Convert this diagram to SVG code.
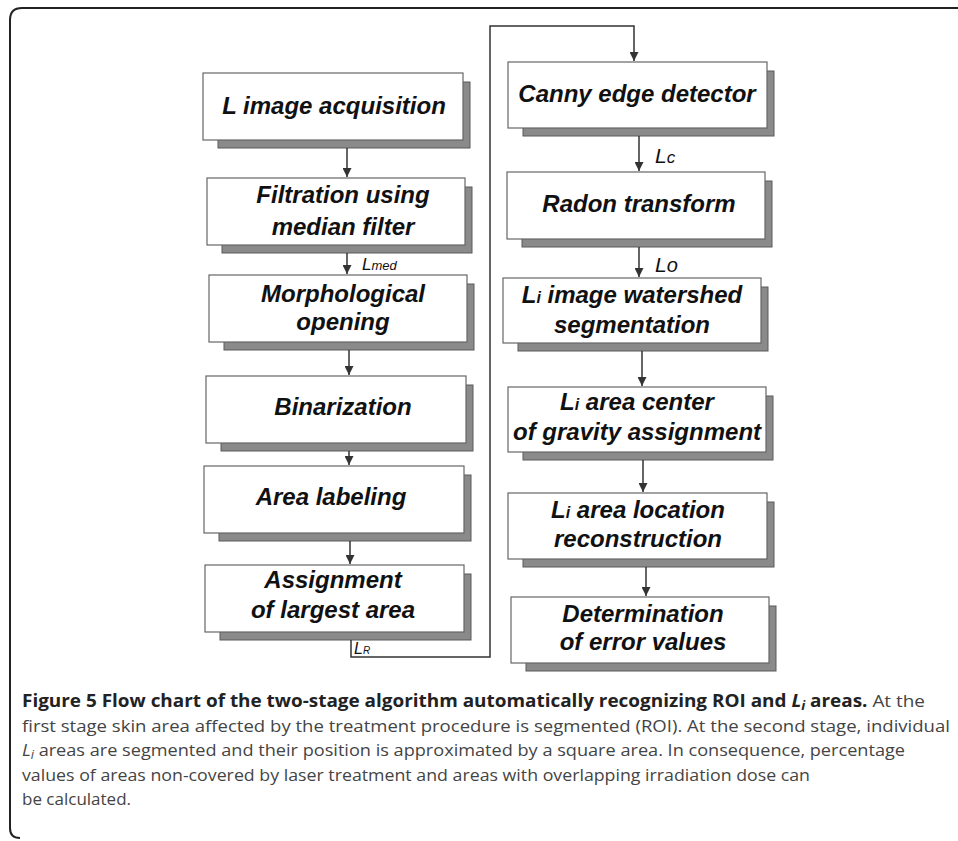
<svg xmlns="http://www.w3.org/2000/svg" width="958" height="841" viewBox="0 0 958 841">
<defs>
<marker id="ah" viewBox="0 0 10 10" refX="10" refY="5" markerWidth="9" markerHeight="9" markerUnits="userSpaceOnUse" orient="auto">
<path d="M0,0 L10,5 L0,10 Z" fill="#333"/>
</marker>
<style>
.sh{fill:#8a8a8a;stroke:#5a5a5a;stroke-width:1}
.bx{fill:#fff;stroke:#666;stroke-width:1.2}
.t{font-family:"Liberation Sans",Arial,sans-serif;font-weight:bold;font-style:italic;font-size:24px;fill:#111;text-anchor:middle}
.sub{font-size:16px}
.ln{fill:none;stroke:#333;stroke-width:1.5}
.lb{font-family:"Liberation Sans",Arial,sans-serif;font-style:italic;fill:#111}
.cap{font-family:"Open Sans","Liberation Sans",sans-serif;font-size:17px;fill:#444}
.capb{font-weight:bold;fill:#222}
</style>
</defs>
<rect width="958" height="841" fill="#fff"/>
<path d="M958 8 H22 Q10 8 10 20 V828 Q10 838 20 838" fill="none" stroke="#222" stroke-width="2"/>

<g id="b1"><rect class="sh" x="218" y="82" width="252" height="66"/><rect class="bx" x="203" y="73" width="260" height="67"/><text class="t" x="334" y="114">L image acquisition</text></g>
<g id="b2"><rect class="sh" x="222" y="187" width="250" height="66"/><rect class="bx" x="207" y="178" width="258" height="67"/><text class="t" x="343" y="203">Filtration using</text><text class="t" x="343" y="235">median filter</text></g>
<g id="b3"><rect class="sh" x="224" y="284" width="250" height="66"/><rect class="bx" x="209" y="275" width="258" height="67"/><text class="t" x="343" y="302">Morphological</text><text class="t" x="343" y="330">opening</text></g>
<g id="b4"><rect class="sh" x="221" y="385" width="252" height="66"/><rect class="bx" x="206" y="376" width="260" height="67"/><text class="t" x="343" y="415">Binarization</text></g>
<g id="b5"><rect class="sh" x="219" y="475" width="252" height="66"/><rect class="bx" x="204" y="466" width="260" height="67"/><text class="t" x="331" y="505">Area labeling</text></g>
<g id="b6"><rect class="sh" x="220" y="574" width="251" height="66"/><rect class="bx" x="205" y="565" width="259" height="67"/><text class="t" x="333" y="588">Assignment</text><text class="t" x="333" y="618">of largest area</text></g>

<g id="r1"><rect class="sh" x="523" y="71" width="251" height="65"/><rect class="bx" x="508" y="62" width="259" height="66"/><text class="t" x="637" y="102">Canny edge detector</text></g>
<g id="r2"><rect class="sh" x="522" y="181" width="250" height="66"/><rect class="bx" x="507" y="172" width="258" height="67"/><text class="t" x="639" y="212">Radon transform</text></g>
<g id="r3"><rect class="sh" x="518" y="287" width="250" height="64"/><rect class="bx" x="503" y="278" width="258" height="65"/><text class="t" x="632" y="303">L<tspan class="sub">i</tspan> image watershed</text><text class="t" x="632" y="333">segmentation</text></g>
<g id="r4"><rect class="sh" x="523" y="396" width="250" height="64"/><rect class="bx" x="508" y="387" width="258" height="65"/><text class="t" x="637" y="410">L<tspan class="sub">i</tspan> area center</text><text class="t" x="637" y="440">of gravity assignment</text></g>
<g id="r5"><rect class="sh" x="523" y="502" width="251" height="65"/><rect class="bx" x="508" y="493" width="259" height="66"/><text class="t" x="638" y="518">L<tspan class="sub">i</tspan> area location</text><text class="t" x="638" y="547">reconstruction</text></g>
<g id="r6"><rect class="sh" x="526" y="606" width="250" height="65"/><rect class="bx" x="511" y="597" width="258" height="66"/><text class="t" x="643" y="622">Determination</text><text class="t" x="643" y="650">of error values</text></g>

<g id="connectors">
<path class="ln" d="M347 148 V177" marker-end="url(#ah)"/>
<path class="ln" d="M347 253 V274" marker-end="url(#ah)"/>
<path class="ln" d="M349 350 V375" marker-end="url(#ah)"/>
<path class="ln" d="M349 451 V465" marker-end="url(#ah)"/>
<path class="ln" d="M350 541 V564" marker-end="url(#ah)"/>
<path class="ln" d="M351 640 V657 H490 V26 H634 V61" marker-end="url(#ah)"/>
<path class="ln" d="M639 136 V171" marker-end="url(#ah)"/>
<path class="ln" d="M639 247 V277" marker-end="url(#ah)"/>
<path class="ln" d="M642 351 V386" marker-end="url(#ah)"/>
<path class="ln" d="M643 460 V492" marker-end="url(#ah)"/>
<path class="ln" d="M646 567 V596" marker-end="url(#ah)"/>
<text class="lb" x="362" y="270" font-size="17">L<tspan font-size="13">med</tspan></text>
<text class="lb" x="655" y="163" font-size="21">L<tspan font-size="17">c</tspan></text>
<text class="lb" x="655" y="272" font-size="21">L<tspan font-size="20">o</tspan></text>
<text class="lb" x="354" y="654" font-size="16">L<tspan font-size="10">R</tspan></text>
</g>

<g id="caption">
<text class="cap" x="22" y="707" textLength="903" lengthAdjust="spacingAndGlyphs"><tspan class="capb">Figure 5 Flow chart of the two-stage algorithm automatically recognizing ROI and </tspan><tspan class="capb" font-style="italic">L</tspan><tspan class="capb" font-style="italic" font-size="12" dy="3">i</tspan><tspan class="capb" dy="-3"> areas.</tspan> At the</text>
<text class="cap" x="22" y="732" textLength="928" lengthAdjust="spacingAndGlyphs">first stage skin area affected by the treatment procedure is segmented (ROI). At the second stage, individual</text>
<text class="cap" x="22" y="756" textLength="883" lengthAdjust="spacingAndGlyphs"><tspan font-style="italic">L</tspan><tspan font-style="italic" font-size="12" dy="3">i</tspan><tspan dy="-3"> areas are segmented and their position is approximated by a square area. In consequence, percentage</tspan></text>
<text class="cap" x="22" y="781" textLength="788" lengthAdjust="spacingAndGlyphs">values of areas non-covered by laser treatment and areas with overlapping irradiation dose can</text>
<text class="cap" x="22" y="805">be calculated.</text>
</g>
</svg>
